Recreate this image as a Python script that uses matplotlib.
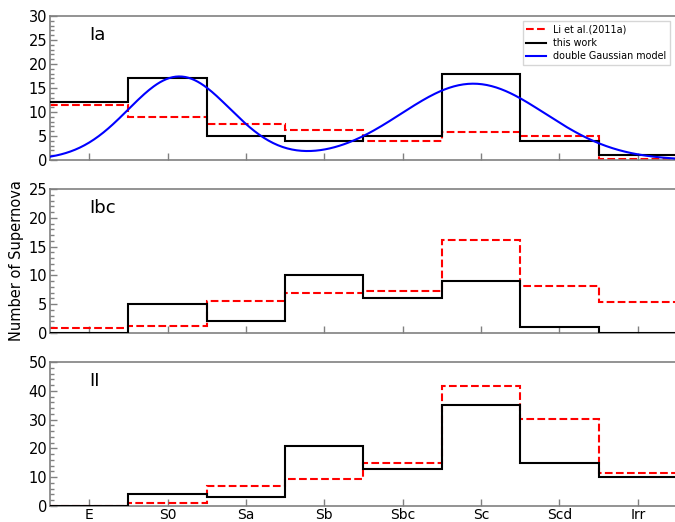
import numpy as np
import matplotlib
matplotlib.use("Agg")
import matplotlib.pyplot as plt
from matplotlib.ticker import AutoMinorLocator, MultipleLocator

# Host galaxy morphological types
types = ["E", "S0", "Sa", "Sb", "Sbc", "Sc", "Scd", "Irr"]

# Type Ia counts
ia_this_work = [12, 17, 5, 4, 5, 18, 4, 1]
ia_li2011 = [11.5, 8.9, 7.4, 6.3, 3.9, 5.8, 4.9, 0.2]

# Type Ibc counts
ibc_this_work = [0, 5, 2, 10, 6, 9, 1, 0]
ibc_li2011 = [0.8, 1.3, 5.6, 6.9, 7.3, 16.2, 8.1, 5.3]

# Type II counts
ii_this_work = [0, 4, 3, 21, 13, 35, 15, 10]
ii_li2011 = [0, 1.0, 6.8, 9.3, 14.8, 41.7, 30.3, 11.3]

# Double Gaussian fit to the Ia distribution (amplitude, centre, width)
gauss_amp = [17.4, 15.9]
gauss_mu = [1.15, 4.9]
gauss_sigma = [0.65, 0.92]

panels = [
    ("Ia", ia_this_work, ia_li2011, 30, 5),
    ("Ibc", ibc_this_work, ibc_li2011, 25, 5),
    ("II", ii_this_work, ii_li2011, 50, 10),
]

plt.rcParams["font.family"] = "DejaVu Sans"
fig = plt.figure(figsize=(6.75, 5.22), dpi=100)

left, width, height = 50 / 675, 627 / 675, 144 / 522
bottoms = [1 - 160 / 522, 1 - 333 / 522, 1 - 506 / 522]

x = np.arange(len(types))
edges = np.arange(len(types) + 1) - 0.5
grey = "#808080"

axes = []
for (name, this_work, li, ymax, ystep), bottom in zip(panels, bottoms):
    ax = fig.add_axes([left, bottom, width, height])
    axes.append(ax)
    ax.stairs(li, edges, baseline=None, color="#ff0000", lw=1.5,
              linestyle="--", label="Li et al.(2011a)", zorder=2)
    ax.stairs(this_work, edges, baseline=None, color="black", lw=1.5,
              label="this work", zorder=3)
    if name == "Ia":
        xs = np.linspace(edges[0], edges[-1], 400)
        model = sum(a * np.exp(-(xs - m) ** 2 / (2 * s ** 2))
                    for a, m, s in zip(gauss_amp, gauss_mu, gauss_sigma))
        ax.plot(xs, model, color="#0000ff", lw=1.5,
                label="double Gaussian model", zorder=4)
        ax.legend(loc="upper right", fontsize=6.9, frameon=True,
                  fancybox=False, edgecolor="#cccccc", borderpad=0.4,
                  labelspacing=0.35, handlelength=2.0,
                  bbox_to_anchor=(0.997, 1.0))
    ax.set_xlim(edges[0], edges[-1])
    ax.set_ylim(0, ymax)
    ax.yaxis.set_major_locator(MultipleLocator(ystep))
    ax.yaxis.set_minor_locator(AutoMinorLocator(5))
    ax.set_xticks(x)
    ax.tick_params(axis="both", which="both", direction="in", color=grey,
                   labelsize=10.5, width=1.0)
    ax.tick_params(axis="both", which="major", length=5)
    ax.tick_params(axis="y", which="minor", length=3)
    ax.tick_params(axis="y", pad=2)
    ax.tick_params(axis="x", pad=1.5, labelsize=10)
    for sp in ax.spines.values():
        sp.set_color(grey)
        sp.set_linewidth(1.2)
    ax.text(0.062, 0.93, name, transform=ax.transAxes, fontsize=13,
            va="top", ha="left")
    if name != "II":
        ax.set_xticklabels([])
    else:
        ax.set_xticklabels(types)

axes[1].set_ylabel("Number of Supernova", fontsize=10.5, labelpad=3)

fig.savefig("out.png", dpi=100)
